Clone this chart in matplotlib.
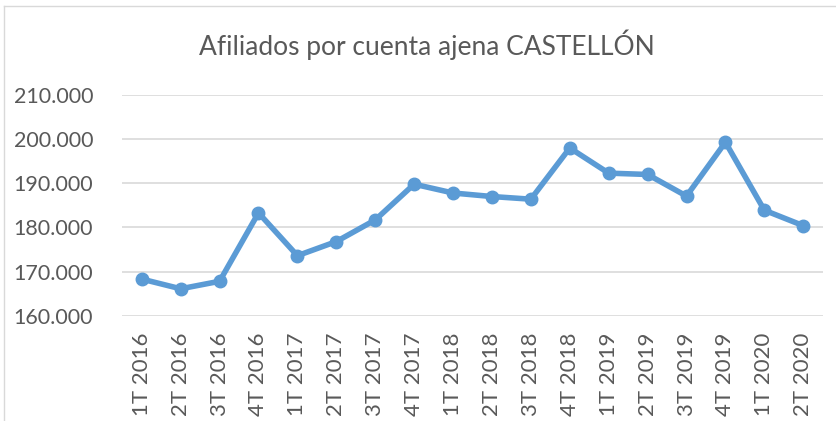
import matplotlib
matplotlib.use("Agg")
import matplotlib.pyplot as plt
from matplotlib.lines import Line2D

# trimestres y afiliados
trimestres = ["1T 2016", "2T 2016", "3T 2016", "4T 2016",
              "1T 2017", "2T 2017", "3T 2017", "4T 2017",
              "1T 2018", "2T 2018", "3T 2018", "4T 2018",
              "1T 2019", "2T 2019", "3T 2019", "4T 2019",
              "1T 2020", "2T 2020"]
afiliados = [168300, 166100, 167800, 183300,
             173600, 176800, 181700, 189800,
             187800, 187000, 186400, 198000,
             192300, 192000, 187100, 199300,
             183900, 180400]
y_ticks = [160000, 170000, 180000, 190000, 200000, 210000]

gris = "#595959"
azul = "#5B9BD5"

plt.rcParams['font.family'] = ['Lato', 'DejaVu Sans']

fig = plt.figure(figsize=(8.36, 4.21), dpi=100)
ax = fig.add_axes([0.1463, 0.2501, 0.8378, 0.5242])

x = list(range(len(trimestres)))
ax.plot(x, afiliados, color=azul, lw=4, marker='o', ms=9,
        solid_joinstyle='round', zorder=3)

ax.set_xlim(-0.5, len(trimestres) - 0.5)
ax.set_ylim(160000, 210000)
ax.set_yticks(y_ticks)
ax.set_yticklabels([f"{v:,}".replace(",", ".") for v in y_ticks])
ax.set_xticks(x)
ax.set_xticklabels(trimestres, rotation=90)

ax.grid(axis='y', color="#D9D9D9", lw=1.2)
ax.set_axisbelow(True)
for s in ax.spines.values():
    s.set_visible(False)
ax.tick_params(length=0, colors=gris, labelsize=15.5)
ax.tick_params(axis='x', labelsize=16)
ax.tick_params(axis='y', pad=21)
ax.tick_params(axis='x', pad=12)

fig.text(427 / 836, 1 - 45 / 421, "Afiliados por cuenta ajena CASTELLÓN",
         ha='center', va='center', fontsize=19, color=gris)

# borde del gráfico
fig.add_artist(Line2D([4 / 836, 4 / 836], [0, 1 - 6 / 421],
                      transform=fig.transFigure, color="#D9D9D9", lw=1))
fig.add_artist(Line2D([4 / 836, 1], [1 - 6 / 421, 1 - 6 / 421],
                      transform=fig.transFigure, color="#D9D9D9", lw=1))

fig.savefig("out.png", dpi=100)
